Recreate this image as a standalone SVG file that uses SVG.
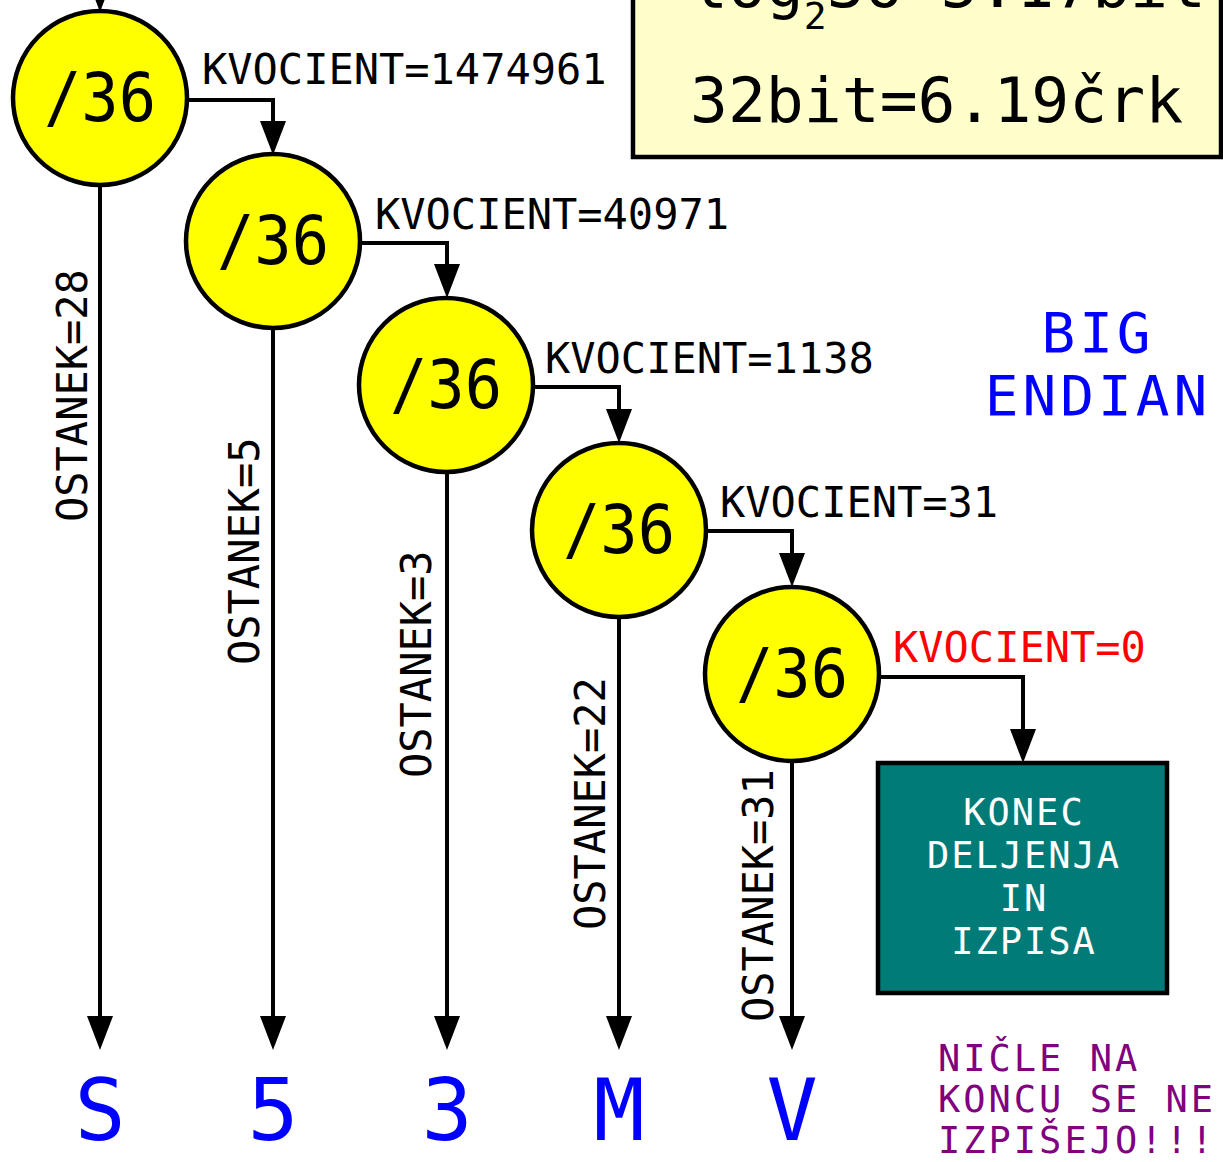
<svg xmlns="http://www.w3.org/2000/svg" width="1223" height="1162" viewBox="0 0 1223 1162">
<style>
text{font-family:"DejaVu Sans Mono","Liberation Mono",monospace}
.div{fill:#ffff00;stroke:#000;stroke-width:4.5}
.dl{font-size:68px;fill:#000;text-anchor:middle}
.kv{font-size:42px;fill:#000}
.os{font-size:42px;fill:#000}
.ch{font-size:85px;fill:#0000ff;text-anchor:middle}
.ln{fill:none;stroke:#000;stroke-width:4;marker-end:url(#ah)}
.end{font-size:37px;fill:#fff;text-anchor:middle;letter-spacing:2px}
.note{font-size:37px;fill:#800080;letter-spacing:3px}
.be{font-size:56px;fill:#0000ff;text-anchor:middle;letter-spacing:4px}
</style>
<defs>
<marker id="ah" markerUnits="userSpaceOnUse" markerWidth="36" markerHeight="28" refX="24" refY="13" orient="auto" viewBox="0 0 36 28">
<path d="M0,0 L34,13 L0,26 z" fill="#000"/>
</marker>
</defs>
<rect width="1223" height="1162" fill="#fff"/>

<g id="info-box">
<rect x="633" y="-20" width="588" height="177" fill="#ffffcc" stroke="#000" stroke-width="4.5"/>
<text x="690" y="7" font-size="63" fill="#000">log<tspan font-size="38" dy="22">2</tspan><tspan dy="-22">36=5.17bit</tspan></text>
<text x="690" y="122" font-size="63" fill="#000">32bit=6.19črk</text>
</g>

<g id="connectors">
<path class="ln" d="M100,-40 V2"/>
<path class="ln" d="M187,100 H273 V145"/>
<path class="ln" d="M360,243 H447 V288"/>
<path class="ln" d="M531,387 H619 V433"/>
<path class="ln" d="M706,531 H792 V577"/>
<path class="ln" d="M878,677 H1023 V753"/>
<path class="ln" d="M100,185 V1040"/>
<path class="ln" d="M273,328 V1040"/>
<path class="ln" d="M447,472 V1040"/>
<path class="ln" d="M619,617 V1040"/>
<path class="ln" d="M792,761 V1040"/>
</g>

<g id="labels">
<text class="kv" x="202" y="84">KVOCIENT=1474961</text>
<text class="kv" x="375" y="229">KVOCIENT=40971</text>
<text class="kv" x="545" y="373">KVOCIENT=1138</text>
<text class="kv" x="720" y="517">KVOCIENT=31</text>
<text class="kv" x="893" y="662" style="fill:#ff0000">KVOCIENT=0</text>
<text class="os" transform="translate(87,522) rotate(-90)">OSTANEK=28</text>
<text class="os" transform="translate(259,665) rotate(-90)">OSTANEK=5</text>
<text class="os" transform="translate(431,778) rotate(-90)">OSTANEK=3</text>
<text class="os" transform="translate(605,930) rotate(-90)">OSTANEK=22</text>
<text class="os" transform="translate(773,1022) rotate(-90)">OSTANEK=31</text>
</g>

<g id="div1"><circle class="div" cx="100" cy="98" r="87"/><text class="dl" x="100" y="121" textLength="112" lengthAdjust="spacingAndGlyphs">/36</text></g>
<g id="div2"><circle class="div" cx="273" cy="241" r="87"/><text class="dl" x="273" y="264" textLength="112" lengthAdjust="spacingAndGlyphs">/36</text></g>
<g id="div3"><circle class="div" cx="446" cy="385" r="87"/><text class="dl" x="446" y="408" textLength="112" lengthAdjust="spacingAndGlyphs">/36</text></g>
<g id="div4"><circle class="div" cx="619" cy="530" r="87"/><text class="dl" x="619" y="553" textLength="112" lengthAdjust="spacingAndGlyphs">/36</text></g>
<g id="div5"><circle class="div" cx="792" cy="674" r="87"/><text class="dl" x="792" y="697" textLength="112" lengthAdjust="spacingAndGlyphs">/36</text></g>

<g id="end-box">
<rect x="878" y="763" width="289" height="230" fill="#007b78" stroke="#000" stroke-width="4.5"/>
<text class="end" x="1024" y="825">KONEC</text>
<text class="end" x="1024" y="868">DELJENJA</text>
<text class="end" x="1024" y="911">IN</text>
<text class="end" x="1024" y="954">IZPISA</text>
</g>

<g id="output">
<text class="ch" x="100" y="1140">S</text>
<text class="ch" x="273" y="1140">5</text>
<text class="ch" x="447" y="1140">3</text>
<text class="ch" x="619" y="1140">M</text>
<text class="ch" x="792" y="1140">V</text>
</g>

<g id="big-endian">
<text class="be" x="1098" y="352">BIG</text>
<text class="be" x="1098" y="415">ENDIAN</text>
</g>

<g id="note">
<text class="note" x="938" y="1071">NIČLE NA</text>
<text class="note" x="938" y="1112">KONCU SE NE</text>
<text class="note" x="938" y="1153">IZPIŠEJO!!!</text>
</g>
</svg>
